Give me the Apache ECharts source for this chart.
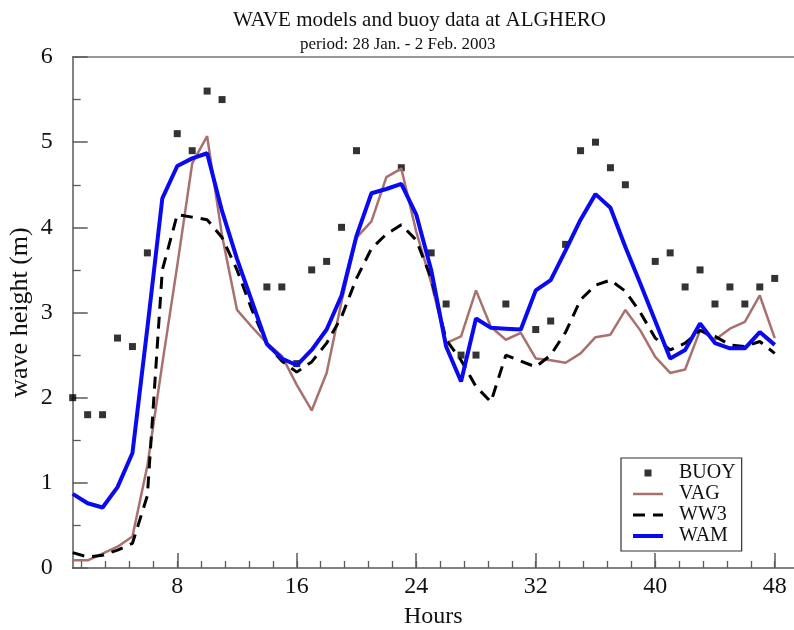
<!DOCTYPE html>
<html>
<head>
<meta charset="utf-8">
<title>WAVE models and buoy data at ALGHERO</title>
<script src="https://cdn.jsdelivr.net/npm/echarts@6/dist/echarts.min.js"></script>
<style>
  html, body { margin:0; padding:0; background:#fff; }
  #chart { width:794px; height:630px; }
</style>
</head>
<body>
<div id="chart"></div>
<script>
// ---------- data ----------
const hours = [1,2,3,4,5,6,7,8,9,10,11,12,13,14,15,16,17,18,19,20,21,22,23,24,
               25,26,27,28,29,30,31,32,33,34,35,36,37,38,39,40,41,42,43,44,45,46,47,48];

const buoy = [2.0,1.8,1.8,2.7,2.6,3.7,null,5.1,4.9,5.6,5.5,null,null,3.3,3.3,2.4,3.5,3.6,4.0,4.9,null,null,4.7,null,
              3.7,3.1,2.5,2.5,null,3.1,null,2.8,2.9,3.8,4.9,5.0,4.7,4.5,null,3.6,3.7,3.3,3.5,3.1,3.3,3.1,3.3,3.4];

const vag = [0.09,0.09,0.17,0.25,0.37,1.2,2.4,3.55,4.75,5.07,3.9,3.03,2.83,2.64,2.49,2.15,1.85,2.29,3.13,3.88,4.07,4.59,4.69,3.95,
             3.35,2.64,2.72,3.26,2.83,2.68,2.76,2.46,2.44,2.41,2.52,2.71,2.74,3.03,2.79,2.48,2.29,2.33,2.79,2.68,2.81,2.89,3.2,2.7];

const ww3 = [0.18,0.13,0.15,0.21,0.29,0.85,3.5,4.15,4.12,4.09,3.88,3.5,3.03,2.63,2.43,2.3,2.42,2.64,2.95,3.4,3.75,3.92,4.03,3.85,
             3.4,2.68,2.44,2.13,1.95,2.5,2.43,2.36,2.5,2.77,3.15,3.32,3.38,3.25,3.0,2.7,2.56,2.64,2.79,2.72,2.62,2.6,2.66,2.52];

const wam = [0.87,0.76,0.71,0.95,1.35,2.82,4.34,4.72,4.81,4.87,4.19,3.63,3.13,2.63,2.46,2.38,2.56,2.8,3.2,3.9,4.4,4.45,4.51,4.15,
             3.5,2.6,2.19,2.93,2.82,2.81,2.8,3.26,3.38,3.73,4.09,4.39,4.23,3.77,3.34,2.9,2.46,2.56,2.87,2.64,2.58,2.58,2.77,2.62];

const hourLabels = [8,16,24,32,40,48];
const hourMinor = Array.from({length:30}, (_,i) => +((i+1)*1.6).toFixed(1));

// ---------- helpers ----------
const FONT = '"Liberation Serif", "DejaVu Serif", serif';
const pairs = ys => hours.map((h,i) => [h, ys[i]]).filter(p => p[1] != null);

const X_MIN = 1, X_MAX = 49.29;
const axisCol = '#5a5a5a';
// line entries: keep the legend line, hide the default circle marker
const lineItem = (name, width) => ({ name, itemStyle:{ opacity:0 }, lineStyle:{ width } });

const chart = echarts.init(document.getElementById('chart'), null, { renderer:'canvas' });

chart.setOption({
  animation: false,
  backgroundColor: '#fff',
  title: [
    { text:'WAVE models and buoy data at ALGHERO', left:228, top:5,
      textStyle:{ fontFamily:FONT, fontSize:21, fontWeight:'normal', color:'#111' } },
    { text:'period: 28 Jan. - 2 Feb. 2003', left:295, top:31,
      textStyle:{ fontFamily:FONT, fontSize:17, fontWeight:'normal', color:'#111' } }
  ],
  grid: { left:72.7, right:0, top:57, bottom:62, outerBoundsMode:'none', containLabel:false },
  legend: {
    orient:'vertical', left:621, top:458,
    padding:[5,6,5,10], itemWidth:30, itemHeight:14, itemGap:1,
    borderColor:'#333', borderWidth:1.2, backgroundColor:'#fff',
    textStyle:{ fontFamily:FONT, fontSize:20, color:'#111', padding:[0,0,0,11] },
    data:[
      { name:'BUOY', icon:'path://M0,0M14,14M3.5,3.5h7v7h-7z' },
      lineItem('VAG', 2.5), lineItem('WW3', 3), lineItem('WAM', 4)
    ]
  },
  xAxis: [
    { // main axis with labels
      type:'value', min:X_MIN, max:X_MAX, position:'bottom',
      name:'Hours', nameLocation:'middle', nameGap:37,
      nameTextStyle:{ fontFamily:FONT, fontSize:24, color:'#111' },
      axisLine:{ lineStyle:{ color:axisCol, width:1.5 } },
      axisTick:{ inside:true, length:15, lineStyle:{ color:axisCol, width:1.5 }, customValues:hourLabels },
      axisLabel:{ fontFamily:FONT, fontSize:24, color:'#111', margin:7, customValues:hourLabels },
      splitLine:{ show:false }
    },
    { // minor ticks
      type:'value', min:X_MIN, max:X_MAX, position:'bottom',
      axisLine:{ show:false },
      axisTick:{ inside:true, length:7, lineStyle:{ color:axisCol, width:1.3 }, customValues:hourMinor },
      axisLabel:{ show:false }, splitLine:{ show:false }
    },
    { // top frame line
      type:'value', min:X_MIN, max:X_MAX, position:'top',
      axisLine:{ lineStyle:{ color:'#777', width:1.5 } },
      axisTick:{ show:false }, axisLabel:{ show:false }, splitLine:{ show:false }
    }
  ],
  yAxis: {
    type:'value', min:0, max:6, interval:1,
    name:'wave height (m)', nameLocation:'middle', nameGap:40, nameRotate:90, nameMoveOverlap:false,
    nameTextStyle:{ fontFamily:FONT, fontSize:26, color:'#111', padding:[8,0,0,0] },
    axisLine:{ show:true, lineStyle:{ color:axisCol, width:1.5 } },
    axisTick:{ show:true, inside:true, length:15, lineStyle:{ color:axisCol, width:1.5 } },
    minorTick:{ show:true, splitNumber:2, length:8, lineStyle:{ color:axisCol, width:1.3 } },
    axisLabel:{ fontFamily:FONT, fontSize:24, color:'#111', margin:20 },
    splitLine:{ show:false }
  },
  series: [
    { name:'VAG', type:'line', data:pairs(vag), symbol:'none',
      lineStyle:{ color:'#a8716e', width:2.5 }, itemStyle:{ color:'#a8716e' } },
    { name:'WW3', type:'line', data:pairs(ww3), symbol:'none',
      lineStyle:{ color:'#000', width:3, type:[12,8] }, itemStyle:{ color:'#000' } },
    { name:'WAM', type:'line', data:pairs(wam), symbol:'none',
      lineStyle:{ color:'#0a0af0', width:4 }, itemStyle:{ color:'#0a0af0' } },
    { name:'BUOY', type:'scatter', data:pairs(buoy), symbol:'rect', symbolSize:7,
      itemStyle:{ color:'#000' } }
  ]
});
</script>
</body>
</html>
